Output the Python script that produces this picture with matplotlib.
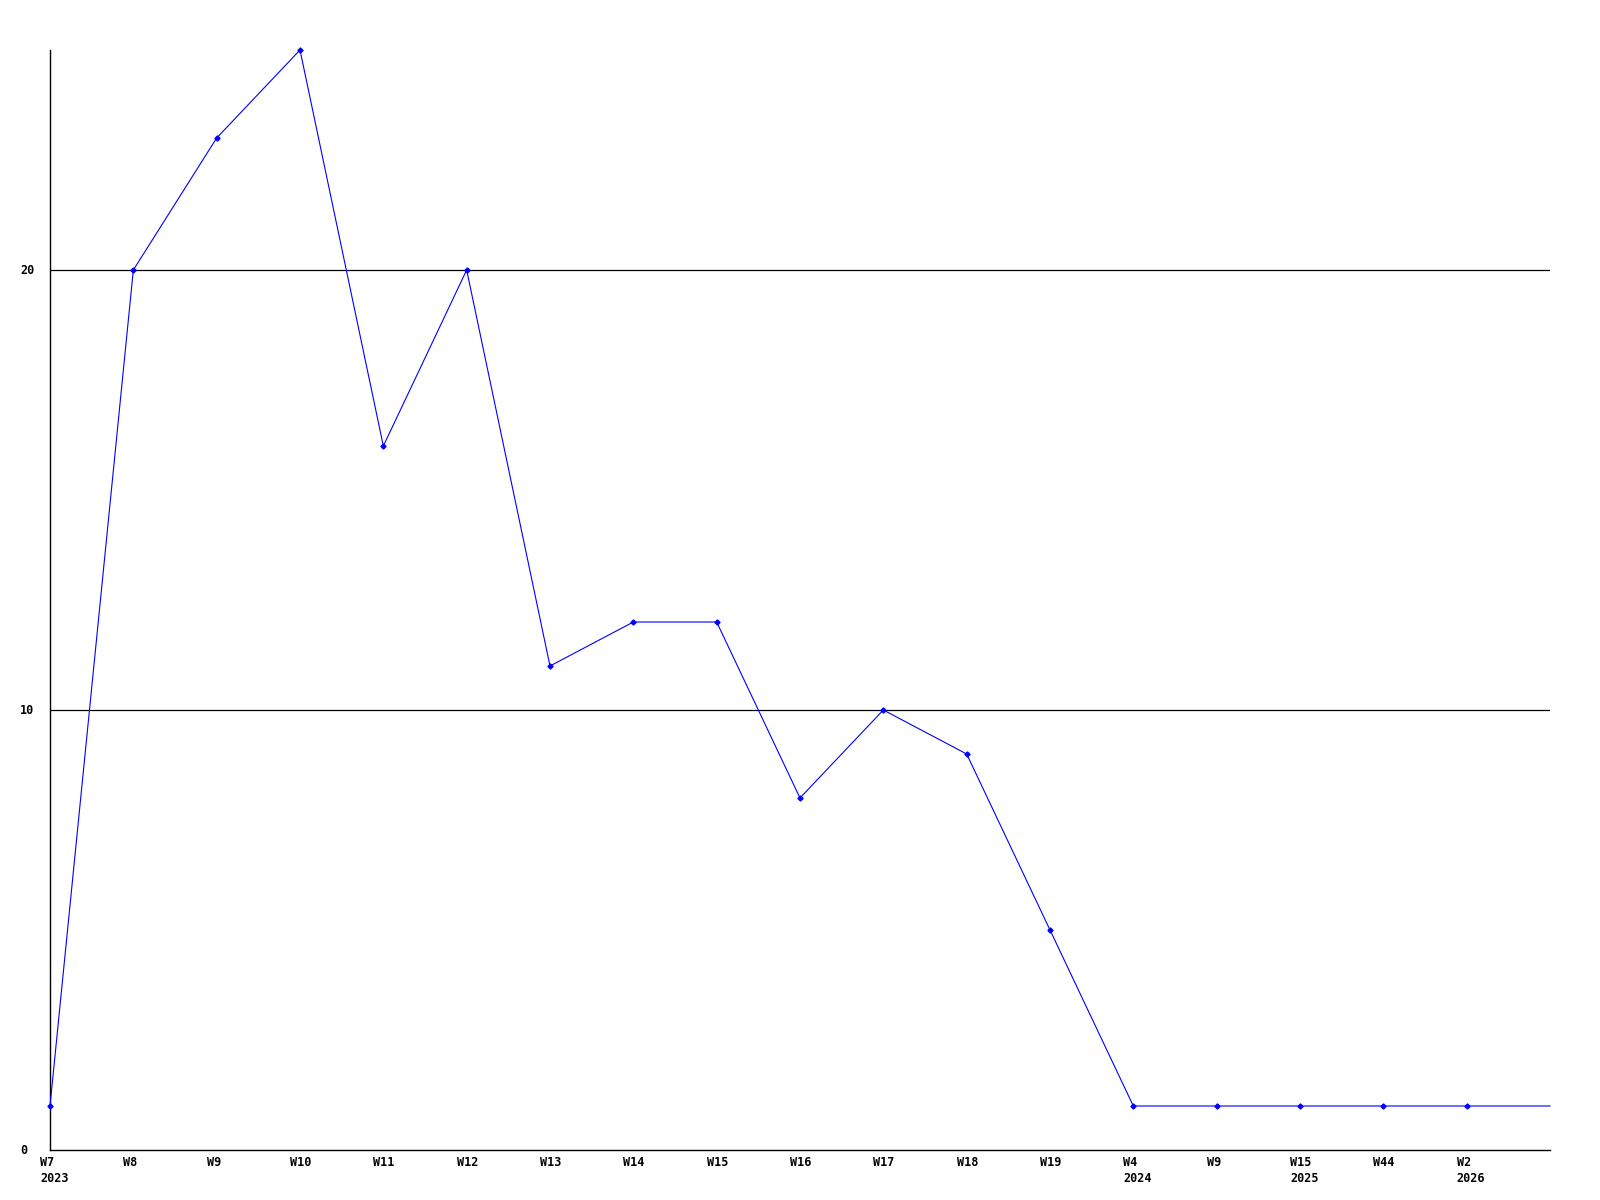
import matplotlib
matplotlib.use("Agg")
import matplotlib.pyplot as plt
import matplotlib.transforms as mtransforms

weeks = ["W7", "W8", "W9", "W10", "W11", "W12", "W13", "W14", "W15", "W16",
         "W17", "W18", "W19", "W4", "W9", "W15", "W44", "W2", ""]
years = ["2023", "", "", "", "", "", "", "", "", "", "", "", "", "2024", "", "2025", "", "2026", ""]
values = [1, 20, 23, 25, 16, 20, 11, 12, 12, 8, 10, 9, 5, 1, 1, 1, 1, 1, 1]
y_ticks = [0, 10, 20]

fig = plt.figure(figsize=(16, 12), dpi=100)
ax = fig.add_axes([50/1600, 50/1200, 1500/1600, 1100/1200])

xs = list(range(len(values)))
ax.plot(xs, values, color="#0000ff", linewidth=0.8, marker="D", markersize=2.6,
        markevery=list(range(len(values) - 1)), clip_on=False, zorder=3)

ax.set_xlim(0, len(values) - 1)
ax.set_ylim(0, 25)

for s in ["top", "right"]:
    ax.spines[s].set_visible(False)
for s in ["left", "bottom"]:
    ax.spines[s].set_color("black")
    ax.spines[s].set_linewidth(1.0)

for yv in y_ticks[1:]:
    ax.axhline(yv, color="black", linewidth=0.9, zorder=1)

ax.set_xticks([])
ax.set_yticks([])

font = dict(family="DejaVu Sans Mono", fontweight="bold", fontsize=8.5, color="black")

ytr = ax.get_yaxis_transform()
for yv in y_ticks:
    ax.text(-30/1500, yv, str(yv), transform=ytr, ha="left", va="center", **font)

xtr = mtransforms.offset_copy(ax.get_xaxis_transform(), fig=fig, x=-10, y=-6, units="dots")
for i, (w, yr) in enumerate(zip(weeks, years)):
    if not w:
        continue
    label = w + ("\n" + yr if yr else "")
    ax.text(i, 0, label, transform=xtr, ha="left", va="top", linespacing=1.3, **font)

fig.savefig("out.png", dpi=100)
